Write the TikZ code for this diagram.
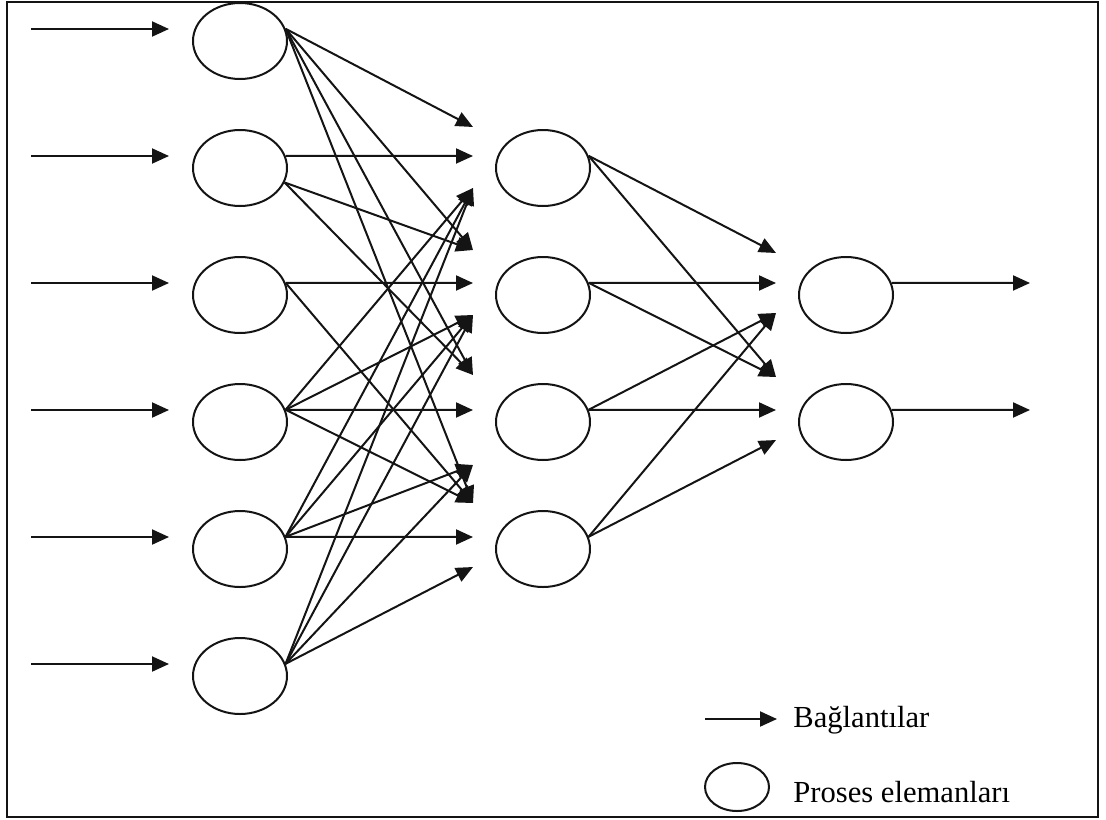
\documentclass[tikz,border=0pt]{standalone}
\usepackage{fontspec}
\setmainfont{Liberation Serif}
\usetikzlibrary{shapes.geometric, arrows.meta}
\definecolor{netink}{RGB}{20, 20, 20}
\tikzset{
  pe/.style={
    ellipse, draw=netink, line width=1pt,
    minimum width=47pt, minimum height=38pt, inner sep=0pt
  },
  lgpe/.style={
    ellipse, draw=netink, line width=1pt,
    minimum width=32pt, minimum height=24pt, inner sep=0pt
  },
  arr/.style={-{Triangle[length=8.5pt, width=7.5pt]}, line width=1pt, color=netink},
  lbl/.style={anchor=base west, inner sep=0pt, font=\fontsize{15.3}{18}\selectfont},
}

\begin{document}
\begin{tikzpicture}[x=0.5pt, y=-0.5pt]
    \useasboundingbox (0,0) rectangle (1106,819);
    \draw[line width=1.1pt, netink] (7,2) rectangle (1098,817);

    \foreach \i in {1,...,6} {
      \node[pe] (i\i) at (240, {41+127*(\i-1)}) {};
      \coordinate (x\i) at (31, {29+127*(\i-1)});
    }
    \foreach \i in {1,...,4}
      \node[pe] (h\i) at (543, {168+127*(\i-1)}) {};
    \foreach \i in {1,2} {
      \node[pe] (o\i) at (846, {295+127*(\i-1)}) {};
      \coordinate (y\i) at (1030, {283+127*(\i-1)});
    }

    % free arrow ends in front of the hidden and output layers
    \coordinate (h1a) at ([shift={(-70,-41)}]h1.center);
    \coordinate (h1b) at ([shift={(-70,-12)}]h1.center);
    \coordinate (h1c) at ([shift={(-70,20)}]h1.center);
    \coordinate (h2a) at ([shift={(-70,-45)}]h2.center);
    \coordinate (h2b) at ([shift={(-70,-12)}]h2.center);
    \coordinate (h2c) at ([shift={(-70,20)}]h2.center);
    \coordinate (h3a) at ([shift={(-70,-47)}]h3.center);
    \coordinate (h3b) at ([shift={(-70,-12)}]h3.center);
    \coordinate (h3c) at ([shift={(-70,43)}]h3.center);
    \coordinate (h4a) at ([shift={(-70,-46)}]h4.center);
    \coordinate (h4b) at ([shift={(-70,-12)}]h4.center);
    \coordinate (h4c) at ([shift={(-70,18)}]h4.center);
    \coordinate (o1a) at ([shift={(-70,-42)}]o1.center);
    \coordinate (o1b) at ([shift={(-70,-12)}]o1.center);
    \coordinate (o1c) at ([shift={(-70,18)}]o1.center);
    \coordinate (o2a) at ([shift={(-70,-45)}]o2.center);
    \coordinate (o2b) at ([shift={(-70,-12)}]o2.center);
    \coordinate (o2c) at ([shift={(-70,18)}]o2.center);

    \foreach \i in {1,...,6}
      \draw[arr, shorten >=11.5pt] (x\i) -- (x\i -| i\i.west);

    \foreach \t in {h1a, h2a, h3a, h4a}
      \draw[arr] (i1.15) -- (\t);
    \draw[arr] (i2.15) -- (h1b);
    \foreach \t in {h2a, h3a}
      \draw[arr] (i2.-18) -- (\t);
    \foreach \t in {h2b, h4a}
      \draw[arr] (i3.15) -- (\t);
    \foreach \t in {h1c, h2c, h3b, h4a}
      \draw[arr] (i4.15) -- (\t);
    \foreach \t in {h1c, h2c, h3c, h4b}
      \draw[arr] (i5.15) -- (\t);
    \foreach \t in {h1c, h2c, h3c, h4c}
      \draw[arr] (i6.15) -- (\t);

    \foreach \s/\t in {h1/o1a, h1/o2a, h2/o1b, h2/o2a, h3/o1c, h3/o2b, h4/o1c, h4/o2c}
      \draw[arr] (\s.15) -- (\t);
    \foreach \i in {1,2}
      \draw[arr] (o\i.15) -- (y\i);

    \coordinate (lga) at (705,719);
    \node[lbl] (lgt1) at (793,727) {Bağlantılar};
    \draw[arr, shorten >=8pt] (lga) -- (lga -| lgt1.west);
    \node[lgpe] (lge) at (737,787) {};
    \node[lbl] (lgt2) at (793,802) {Proses elemanları};
  \end{tikzpicture}
\end{document}
